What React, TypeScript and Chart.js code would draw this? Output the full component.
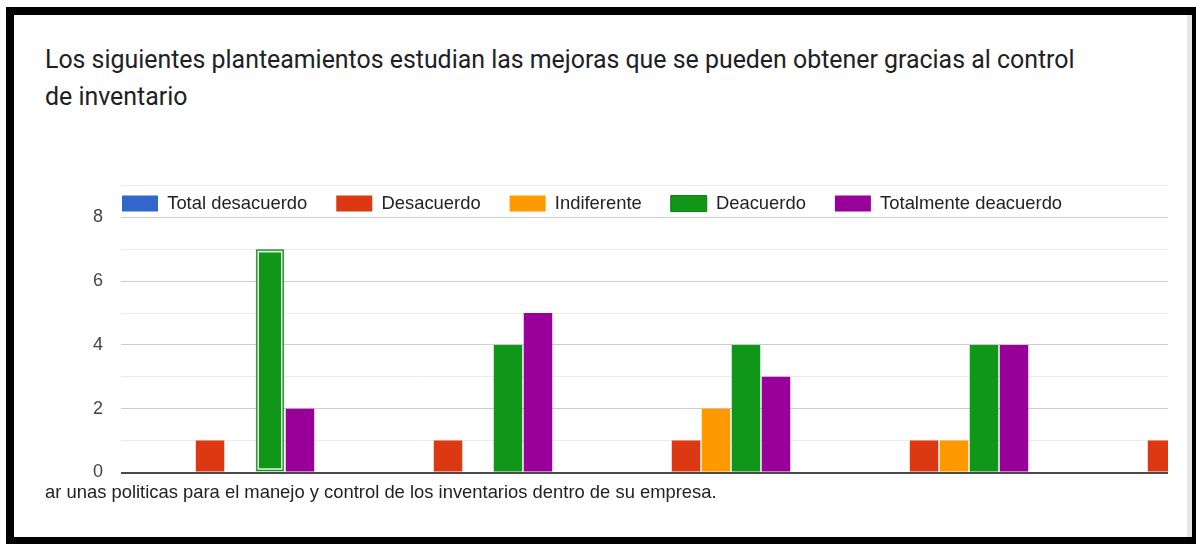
import React, { useEffect, useRef } from "react";
import { Chart, registerables } from "chart.js";

Chart.register(...registerables);

// ---------- data ----------
const categories = ["Planteamiento 1", "Planteamiento 2", "Planteamiento 3", "Planteamiento 4", "Planteamiento 5"];
const seriesNames = ["Total desacuerdo", "Desacuerdo", "Indiferente", "Deacuerdo", "Totalmente deacuerdo"];
const totalDesacuerdo = [0, 0, 0, 0, 0];
const desacuerdo = [1, 1, 1, 1, 1];
const indiferente = [0, 0, 2, 1, null];
const deacuerdo = [7, 4, 4, 4, null];
const totalmenteDeacuerdo = [2, 5, 3, 4, null];
const seriesColors = ["#3366cc", "#dc3912", "#ff9900", "#109618", "#990099"];
const yMax = 9;
const yLabelled = [0, 2, 4, 6, 8];
const questionLine1 = "Los siguientes planteamientos estudian las mejoras que se pueden obtener gracias al control";
const questionLine2 = "de inventario";
const axisCaption = "ar unas politicas para el manejo y control de los inventarios dentro de su empresa.";
const selectedSeries = 3;
const selectedIndex = 0;

const chartFont = "'Liberation Sans', Arial, sans-serif";

// move the (top) legend down into the plot area, like the reference
const legendShift = {
  id: "legendShift",
  afterLayout(chart: any) {
    const lg = chart.legend;
    if (!lg) return;
    const ca = chart.chartArea;
    const pad = lg.options.labels.padding;
    const dx = ca.left + 1 - (lg.left + pad);
    const dy = ca.top + 9 - (lg.top + pad);
    lg.left += dx;
    lg.right += dx;
    lg.top += dy;
    lg.bottom += dy;
  },
};

const selectedOutline = {
  id: "selectedOutline",
  afterDatasetsDraw(chart: any) {
    const meta = chart.getDatasetMeta(selectedSeries);
    const el = meta && meta.data[selectedIndex];
    if (!el) return;
    const { x, y, base, width } = el.getProps(["x", "y", "base", "width"], true);
    const ctx = chart.ctx;
    ctx.save();
    ctx.strokeStyle = "rgba(255,255,255,0.9)";
    ctx.lineWidth = 1.5;
    const l = x - width / 2 + 2.5;
    const r = x + width / 2 - 2.5;
    ctx.strokeRect(l, y + 2.5, r - l, base - y - 5);
    ctx.restore();
  },
};

const CANVAS_TOP = 128;
const CANVAS_W = 1266;
const CANVAS_H = 380;

export default function App() {
  const canvasRef = useRef<HTMLCanvasElement | null>(null);

  useEffect(() => {
    const canvas = canvasRef.current;
    if (!canvas) return;
    const values = [totalDesacuerdo, desacuerdo, indiferente, deacuerdo, totalmenteDeacuerdo];
    const chart = new Chart(canvas, {
      type: "bar",
      data: {
        labels: categories,
        datasets: seriesNames.map((name, i) => ({
          label: name,
          data: values[i],
          backgroundColor: seriesColors[i],
          borderColor: (c: any) =>
            i === selectedSeries && c.dataIndex === selectedIndex ? "#0c7a14" : seriesColors[i],
          borderWidth: (c: any) =>
            i === selectedSeries && c.dataIndex === selectedIndex ? 1 : 0,
          categoryPercentage: 0.63,
          barPercentage: 0.95,
        })),
      },
      options: {
        responsive: false,
        maintainAspectRatio: false,
        animation: false,
        devicePixelRatio: 1,
        layout: { padding: { top: 0, bottom: 4, left: 0, right: 0 } },
        plugins: {
          tooltip: { enabled: false },
          legend: {
            position: "top",
            align: "start",
            labels: {
              boxWidth: 36,
              boxHeight: 16,
              padding: 29,
              color: "#222222",
              font: { family: chartFont, size: 18.4 },
            },
          },
          title: {
            display: true,
            position: "bottom",
            align: "start",
            text: axisCaption,
            color: "#222222",
            font: { family: chartFont, size: 18.4, weight: "normal" },
            padding: { top: 9.4, bottom: 0 },
          },
        },
        scales: {
          x: {
            display: false,
            grid: { display: false },
          },
          y: {
            min: 0,
            max: yMax,
            afterFit: (s: any) => {
              s.width = 76;
            },
            border: { display: false },
            grid: {
              drawTicks: false,
              color: (c: any) => {
                const v = c.tick && c.tick.value;
                if (v === 0) return "#4a4a4a";
                return v % 2 === 0 ? "#cccccc" : "#ebebeb";
              },
              lineWidth: (c: any) => (c.tick && c.tick.value === 0 ? 2 : 1),
            },
            ticks: {
              stepSize: 1,
              autoSkip: false,
              padding: 18,
              color: "#444444",
              font: { family: chartFont, size: 18 },
              callback: (v: any) => (yLabelled.includes(Number(v)) ? String(v) : ""),
            },
          },
        },
      },
      plugins: [legendShift, selectedOutline],
    } as any);
    return () => chart.destroy();
  }, []);

  return (
    <div
      style={{
        position: "fixed",
        left: 0,
        top: 0,
        width: 1196,
        height: 544,
        background: "#ffffff",
        overflow: "hidden",
      }}
    >
      <div
        style={{
          position: "absolute",
          left: 6,
          top: 7,
          width: 1194,
          height: 538,
          border: "8px solid #000",
          boxSizing: "border-box",
        }}
      />
      <div
        style={{
          position: "absolute",
          left: 1187,
          top: 15,
          width: 5,
          height: 522,
          background: "#e4e6ea",
        }}
      />
      <div
        style={{
          position: "absolute",
          left: 45,
          top: 41,
          fontFamily: "Roboto, 'Noto Sans', sans-serif",
          fontSize: 24.9,
          lineHeight: "37px",
          color: "#202124",
          whiteSpace: "nowrap",
        }}
      >
        <div>{questionLine1}</div>
        <div>{questionLine2}</div>
      </div>
      <div
        style={{
          position: "absolute",
          left: 45,
          top: CANVAS_TOP,
          width: 1123,
          height: CANVAS_H,
          overflow: "hidden",
        }}
      >
        <canvas
          ref={canvasRef}
          width={CANVAS_W}
          height={CANVAS_H}
          style={{ display: "block", width: CANVAS_W, height: CANVAS_H }}
        />
      </div>
    </div>
  );
}
